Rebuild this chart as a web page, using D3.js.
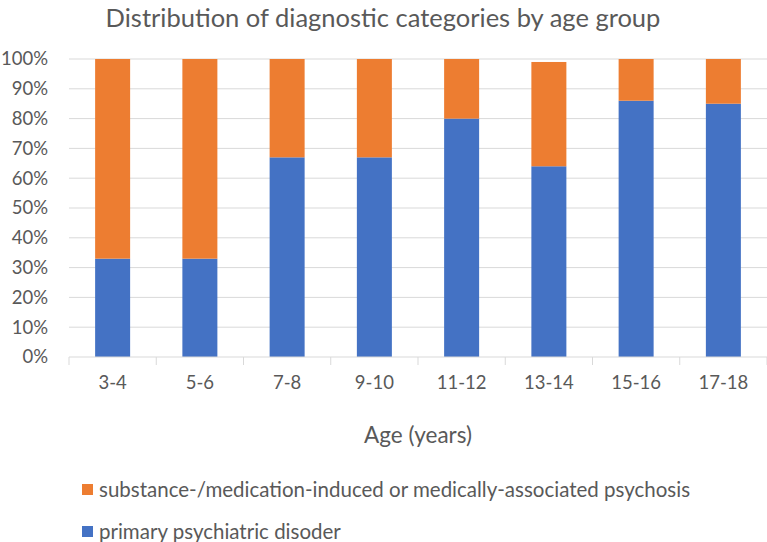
<!DOCTYPE html>
<html>
<head>
<meta charset="utf-8">
<script src="https://cdn.jsdelivr.net/npm/d3@7"></script>
<style>
  body { margin: 0; background: #fff; }
  svg text { font-family: Lato, "Open Sans", sans-serif; fill: #595959; }
</style>
</head>
<body>
<div id="chart"></div>
<script>
let ageGroups = ["3-4", "5-6", "7-8", "9-10", "11-12", "13-14", "15-16", "17-18"];
let primary   = [33, 33, 67, 67, 80, 64, 86, 85];
let induced   = [67, 67, 33, 33, 20, 35, 14, 15];
let yTicks    = [0, 10, 20, 30, 40, 50, 60, 70, 80, 90, 100];
let seriesNames = ["substance-/medication-induced or medically-associated psychosis",
                   "primary psychiatric disoder"];

let width = 767, height = 542;
let margin = { top: 59, right: 0, bottom: 185, left: 69 };
let innerW = width - margin.left - margin.right,
    innerH = height - margin.top - margin.bottom;

let svg = d3.select("#chart").append("svg")
    .attr("width", width)
    .attr("height", height);

let g = svg.append("g")
    .attr("transform", translate(margin.left, margin.top));

let x = d3.scaleBand()
    .domain(ageGroups)
    .range([0, innerW]);

let y = d3.scaleLinear()
    .domain([0, 100])
    .range([innerH, 0]);

// gridlines
g.selectAll(".grid")
  .data(yTicks.slice(1))
  .enter().append("line")
    .attr("x1", 0).attr("x2", innerW)
    .attr("y1", d => y(d)).attr("y2", d => y(d))
    .attr("stroke", "#d9d9d9")
    .attr("stroke-width", 1);

// bars
let rows = ageGroups.map((a, i) => ({ age: a, primary: primary[i], induced: induced[i] }));
let stack = d3.stack().keys(["primary", "induced"])(rows);
let colors = { primary: "#4472c4", induced: "#ed7d31" };
let barW = 35;

g.selectAll(".series")
  .data(stack)
  .enter().append("g")
    .attr("fill", d => colors[d.key])
  .selectAll("rect")
  .data(d => d)
  .enter().append("rect")
    .attr("x", d => x(d.data.age) + (x.bandwidth() - barW) / 2)
    .attr("width", barW)
    .attr("y", d => y(d[1]))
    .attr("height", d => y(d[0]) - y(d[1]));

// y axis labels
g.selectAll(".ylab")
  .data(yTicks)
  .enter().append("text")
    .attr("x", -21)
    .attr("y", d => y(d))
    .attr("dy", "0.35em")
    .attr("text-anchor", "end")
    .style("font-size", "18.5px")
    .text(d => d + "%");

// x axis line and ticks
g.append("line")
    .attr("x1", 0).attr("x2", innerW)
    .attr("y1", innerH).attr("y2", innerH)
    .attr("stroke", "#d9d9d9");

let bounds = ageGroups.map(a => x(a)).concat([innerW]);
g.selectAll(".xtick")
  .data(bounds)
  .enter().append("line")
    .attr("x1", d => d).attr("x2", d => d)
    .attr("y1", innerH).attr("y2", innerH + 8)
    .attr("stroke", "#d9d9d9");

g.selectAll(".xlab")
  .data(ageGroups)
  .enter().append("text")
    .attr("x", d => x(d) + x.bandwidth() / 2)
    .attr("y", innerH + 32)
    .attr("text-anchor", "middle")
    .style("font-size", "18.5px")
    .text(d => d);

// axis title
svg.append("text")
    .attr("x", margin.left + innerW / 2)
    .attr("y", 443)
    .attr("text-anchor", "middle")
    .style("font-size", "22.5px")
    .text("Age (years)");

// chart title
svg.append("text")
    .attr("x", 383)
    .attr("y", 27)
    .attr("text-anchor", "middle")
    .style("font-size", "25.5px")
    .text("Distribution of diagnostic categories by age group");

// legend
let legend = svg.selectAll(".legend")
  .data([["induced", seriesNames[0]], ["primary", seriesNames[1]]])
  .enter().append("g")
    .attr("transform", (d, i) => translate(82, 490 + i * 42));

legend.append("rect")
    .attr("x", 0).attr("y", -6)
    .attr("width", 11).attr("height", 11)
    .attr("fill", d => colors[d[0]]);

legend.append("text")
    .attr("x", 17)
    .attr("dy", "0.35em")
    .style("font-size", "20.5px")
    .text(d => d[1]);

function translate(x, y = 0) {
  return "translate(" + x + "," + y + ")";
}
</script>
</body>
</html>
